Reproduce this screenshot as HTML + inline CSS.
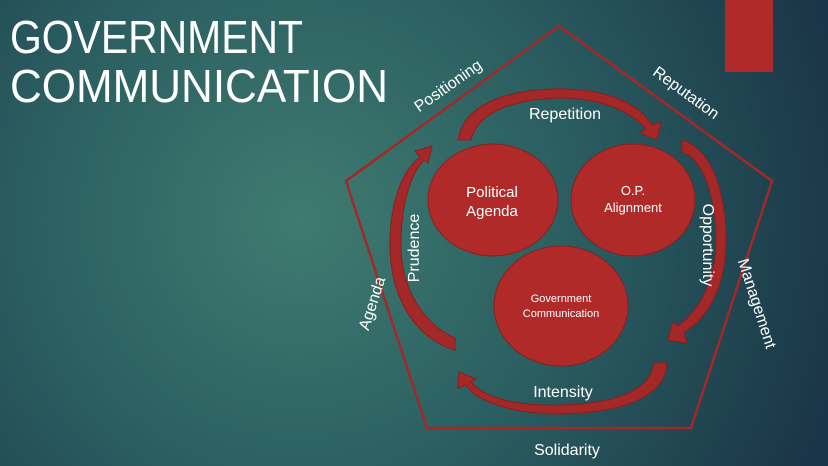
<!DOCTYPE html>
<html><head><meta charset="utf-8"><style>
html,body{margin:0;padding:0;width:828px;height:466px;overflow:hidden}
svg{display:block}
text{font-family:"Liberation Sans",sans-serif;fill:#fff}
</style></head><body>
<svg width="828" height="466" viewBox="0 0 828 466" xmlns="http://www.w3.org/2000/svg">
<defs>
<radialGradient id="bg" cx="300" cy="220" r="560" gradientUnits="userSpaceOnUse">
<stop offset="0" stop-color="#3f7b70"/>
<stop offset="0.5" stop-color="#2a5d60"/>
<stop offset="1" stop-color="#1a3547"/>
</radialGradient>
</defs>
<rect width="828" height="466" fill="url(#bg)"/>
<rect x="725" y="0" width="48" height="72" fill="#b02a2a"/>
<text x="10" y="53" font-size="46" textLength="293" lengthAdjust="spacingAndGlyphs">GOVERNMENT</text>
<text x="10" y="102" font-size="46" textLength="378" lengthAdjust="spacingAndGlyphs">COMMUNICATION</text>
<polygon points="559,26 772,181 691,428 427,428 346,181" fill="none" stroke="#a52828" stroke-width="2.5"/>
<g fill="#a52828" stroke="#8a1f1f" stroke-width="1">
<path d="M458,140 C465,95 530,88 565,89 C610,90 640,105 652,125 L661,122 L657,140 L640,133 L646,129 C630,110 600,99 565,98 C530,98 480,105 471,140 Z"/>
<path d="M682,140 C715,150 726,200 726,240 C726,290 705,320 684,332 L687,343 L668,340 L673,322 L678,326 C700,310 716,280 716,240 C716,200 705,160 682,152 Z"/>
<path d="M667,363 C665,402 610,413 560,414 C510,414 475,400 466,385 L458,388 L459,372 L476,379 L471,382 C485,398 515,406 560,405 C610,404 650,393 654,363 Z"/>
<path d="M455,350 C418,340 390,300 390,245 C390,200 403,170 420,157 L415,151 L432,146 L428,163 L424,160 C410,175 401,205 401,245 C401,290 425,325 455,338 Z"/>
</g>
<g fill="#b02a2a" stroke="#8a2020" stroke-width="1">
<ellipse cx="493" cy="200" rx="65" ry="56"/>
<ellipse cx="633" cy="200" rx="62" ry="56"/>
<ellipse cx="561" cy="306" rx="67" ry="60"/>
</g>
<g text-anchor="middle">
<text x="492" y="197" font-size="15">Political</text>
<text x="492" y="216" font-size="15">Agenda</text>
<text x="633" y="195" font-size="13">O.P.</text>
<text x="633" y="212" font-size="13">Alignment</text>
<text x="561" y="302" font-size="11">Government</text>
<text x="561" y="317" font-size="11">Communication</text>
<text x="565" y="119" font-size="16">Repetition</text>
<text x="563" y="397" font-size="16">Intensity</text>
<text x="567" y="455" font-size="16">Solidarity</text>
<text transform="translate(419,248) rotate(-90)" font-size="16">Prudence</text>
<text transform="translate(703,245) rotate(90)" font-size="16">Opportunity</text>
<text transform="translate(451,90) rotate(-35)" font-size="16">Positioning</text>
<text transform="translate(683,97) rotate(36)" font-size="16">Reputation</text>
<text transform="translate(752,305) rotate(72)" font-size="16">Management</text>
<text transform="translate(377,305) rotate(-72)" font-size="16">Agenda</text>
</g>
</svg>
</body></html>
